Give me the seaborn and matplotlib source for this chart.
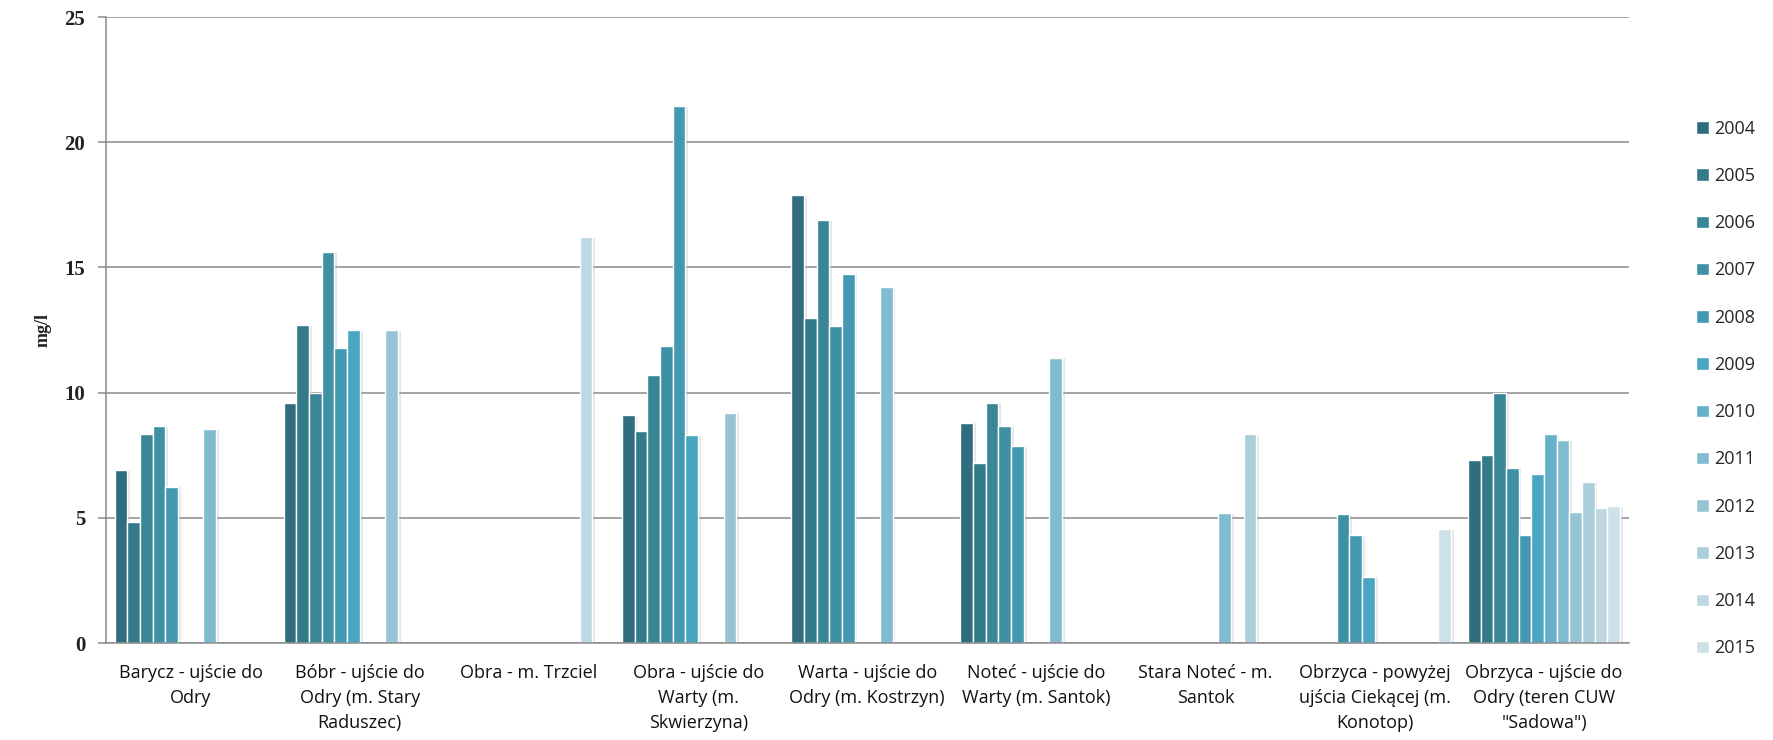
import numpy as np
import pandas as pd
import matplotlib
matplotlib.use("Agg")
import matplotlib.pyplot as plt
import matplotlib.patheffects as pe
from matplotlib.patches import Patch
import seaborn as sns

# Measurement points (x axis categories)
sites = [
    "Barycz - ujście do\nOdry",
    "Bóbr - ujście do\nOdry (m. Stary\nRaduszec)",
    "Obra - m. Trzciel",
    "Obra - ujście do\nWarty (m.\nSkwierzyna)",
    "Warta - ujście do\nOdry (m. Kostrzyn)",
    "Noteć - ujście do\nWarty (m. Santok)",
    "Stara Noteć - m.\nSantok",
    "Obrzyca - powyżej\nujścia Ciekącej (m.\nKonotop)",
    "Obrzyca - ujście do\nOdry (teren CUW\n\"Sadowa\")",
]
years = ["2004", "2005", "2006", "2007", "2008", "2009",
         "2010", "2011", "2012", "2013", "2014", "2015"]

nan = np.nan
# Concentrations in mg/l per site, one entry per year (nan = no measurement)
barycz       = [6.9, 4.85, 8.35, 8.65, 6.25, nan, nan, 8.55, nan, nan, nan, nan]
bobr         = [9.6, 12.7, 10.0, 15.6, 11.8, 12.5, nan, nan, 12.5, nan, nan, nan]
obra_trzciel = [nan, nan, nan, nan, nan, nan, nan, nan, nan, nan, 16.2, nan]
obra_ujscie  = [9.1, 8.45, 10.7, 11.85, 21.45, 8.3, nan, nan, 9.2, nan, nan, nan]
warta        = [17.9, 13.0, 16.9, 12.65, 14.75, nan, nan, 14.2, nan, nan, nan, nan]
notec        = [8.8, 7.2, 9.6, 8.65, 7.85, nan, nan, 11.4, nan, nan, nan, nan]
stara_notec  = [nan, nan, nan, nan, nan, nan, nan, 5.2, nan, 8.35, nan, nan]
obrzyca_pow  = [nan, nan, nan, 5.15, 4.3, 2.65, nan, nan, nan, nan, nan, 4.55]
obrzyca_ujs  = [7.3, 7.5, 10.0, 7.0, 4.33, 6.75, 8.33, 8.1, 5.22, 6.45, 5.38, 5.47]

yticks = [0, 5, 10, 15, 20, 25]

palette = ["#2f6d7f", "#337a8b", "#398697", "#3e90a5", "#4399b1", "#49a6c2",
           "#65b1ca", "#80bbd0", "#97c4d5", "#abcedb", "#bdd8e2", "#cde1e9"]

series = [barycz, bobr, obra_trzciel, obra_ujscie, warta,
          notec, stara_notec, obrzyca_pow, obrzyca_ujs]
rows = []
for site, vals in zip(sites, series):
    for yr, v in zip(years, vals):
        if not np.isnan(v):
            rows.append({"site": site, "year": yr, "value": v})
df = pd.DataFrame(rows)

sns.set_theme(style="white")
plt.rcParams["font.family"] = ["Open Sans", "DejaVu Sans"]

fig = plt.figure(figsize=(17.74, 7.40), dpi=100)
ax = fig.add_axes([0.0598, 0.131, 0.8582, 0.846])

sns.barplot(data=df, x="site", y="value", hue="year", order=sites,
            hue_order=years, palette=palette, width=0.9, dodge=True,
            errorbar=None, saturation=1, edgecolor="white", linewidth=1.0,
            legend=False, ax=ax)

shadow = [pe.SimplePatchShadow(offset=(2, -0.5), shadow_rgbFace="#b0b0b0",
                               alpha=0.3), pe.Normal()]
for p in ax.patches:
    p.set_path_effects(shadow)

ax.set_ylim(0, 25)
ax.set_yticks(yticks)
ax.set_yticklabels([str(t) for t in yticks], family="Liberation Serif",
                   fontsize=15, fontweight="bold", color="#222222")
ax.yaxis.grid(True, color="#8a8a8a", linewidth=1.1)
ax.set_axisbelow(True)
ax.set_xlim(-0.5, len(sites) - 0.5)

for s in ["top", "right"]:
    ax.spines[s].set_visible(False)
for s in ["left", "bottom"]:
    ax.spines[s].set_color("#8a8a8a")
    ax.spines[s].set_linewidth(1.1)
ax.tick_params(axis="y", left=True, length=6, width=1.1, color="#8a8a8a", pad=9)
ax.tick_params(axis="x", bottom=False, pad=9)

ax.set_xticks(range(len(sites)))
ax.set_xticklabels(sites, fontsize=13, color="#111111", linespacing=1.5,
                   va="top")
ax.set_xlabel("")
ax.set_ylabel("mg/l", family="Liberation Serif", fontsize=13,
              fontweight="bold", color="#222222", labelpad=9)

handles = [Patch(facecolor=c, edgecolor="white", label=y)
           for c, y in zip(palette, years)]
fig.legend(handles=handles, loc="upper left", bbox_to_anchor=(0.952, 0.848),
           frameon=False, fontsize=13, handlelength=0.7, handleheight=0.7,
           handletextpad=0.3, labelspacing=1.62, borderaxespad=0)

fig.savefig("out.png", dpi=100, facecolor="white")
